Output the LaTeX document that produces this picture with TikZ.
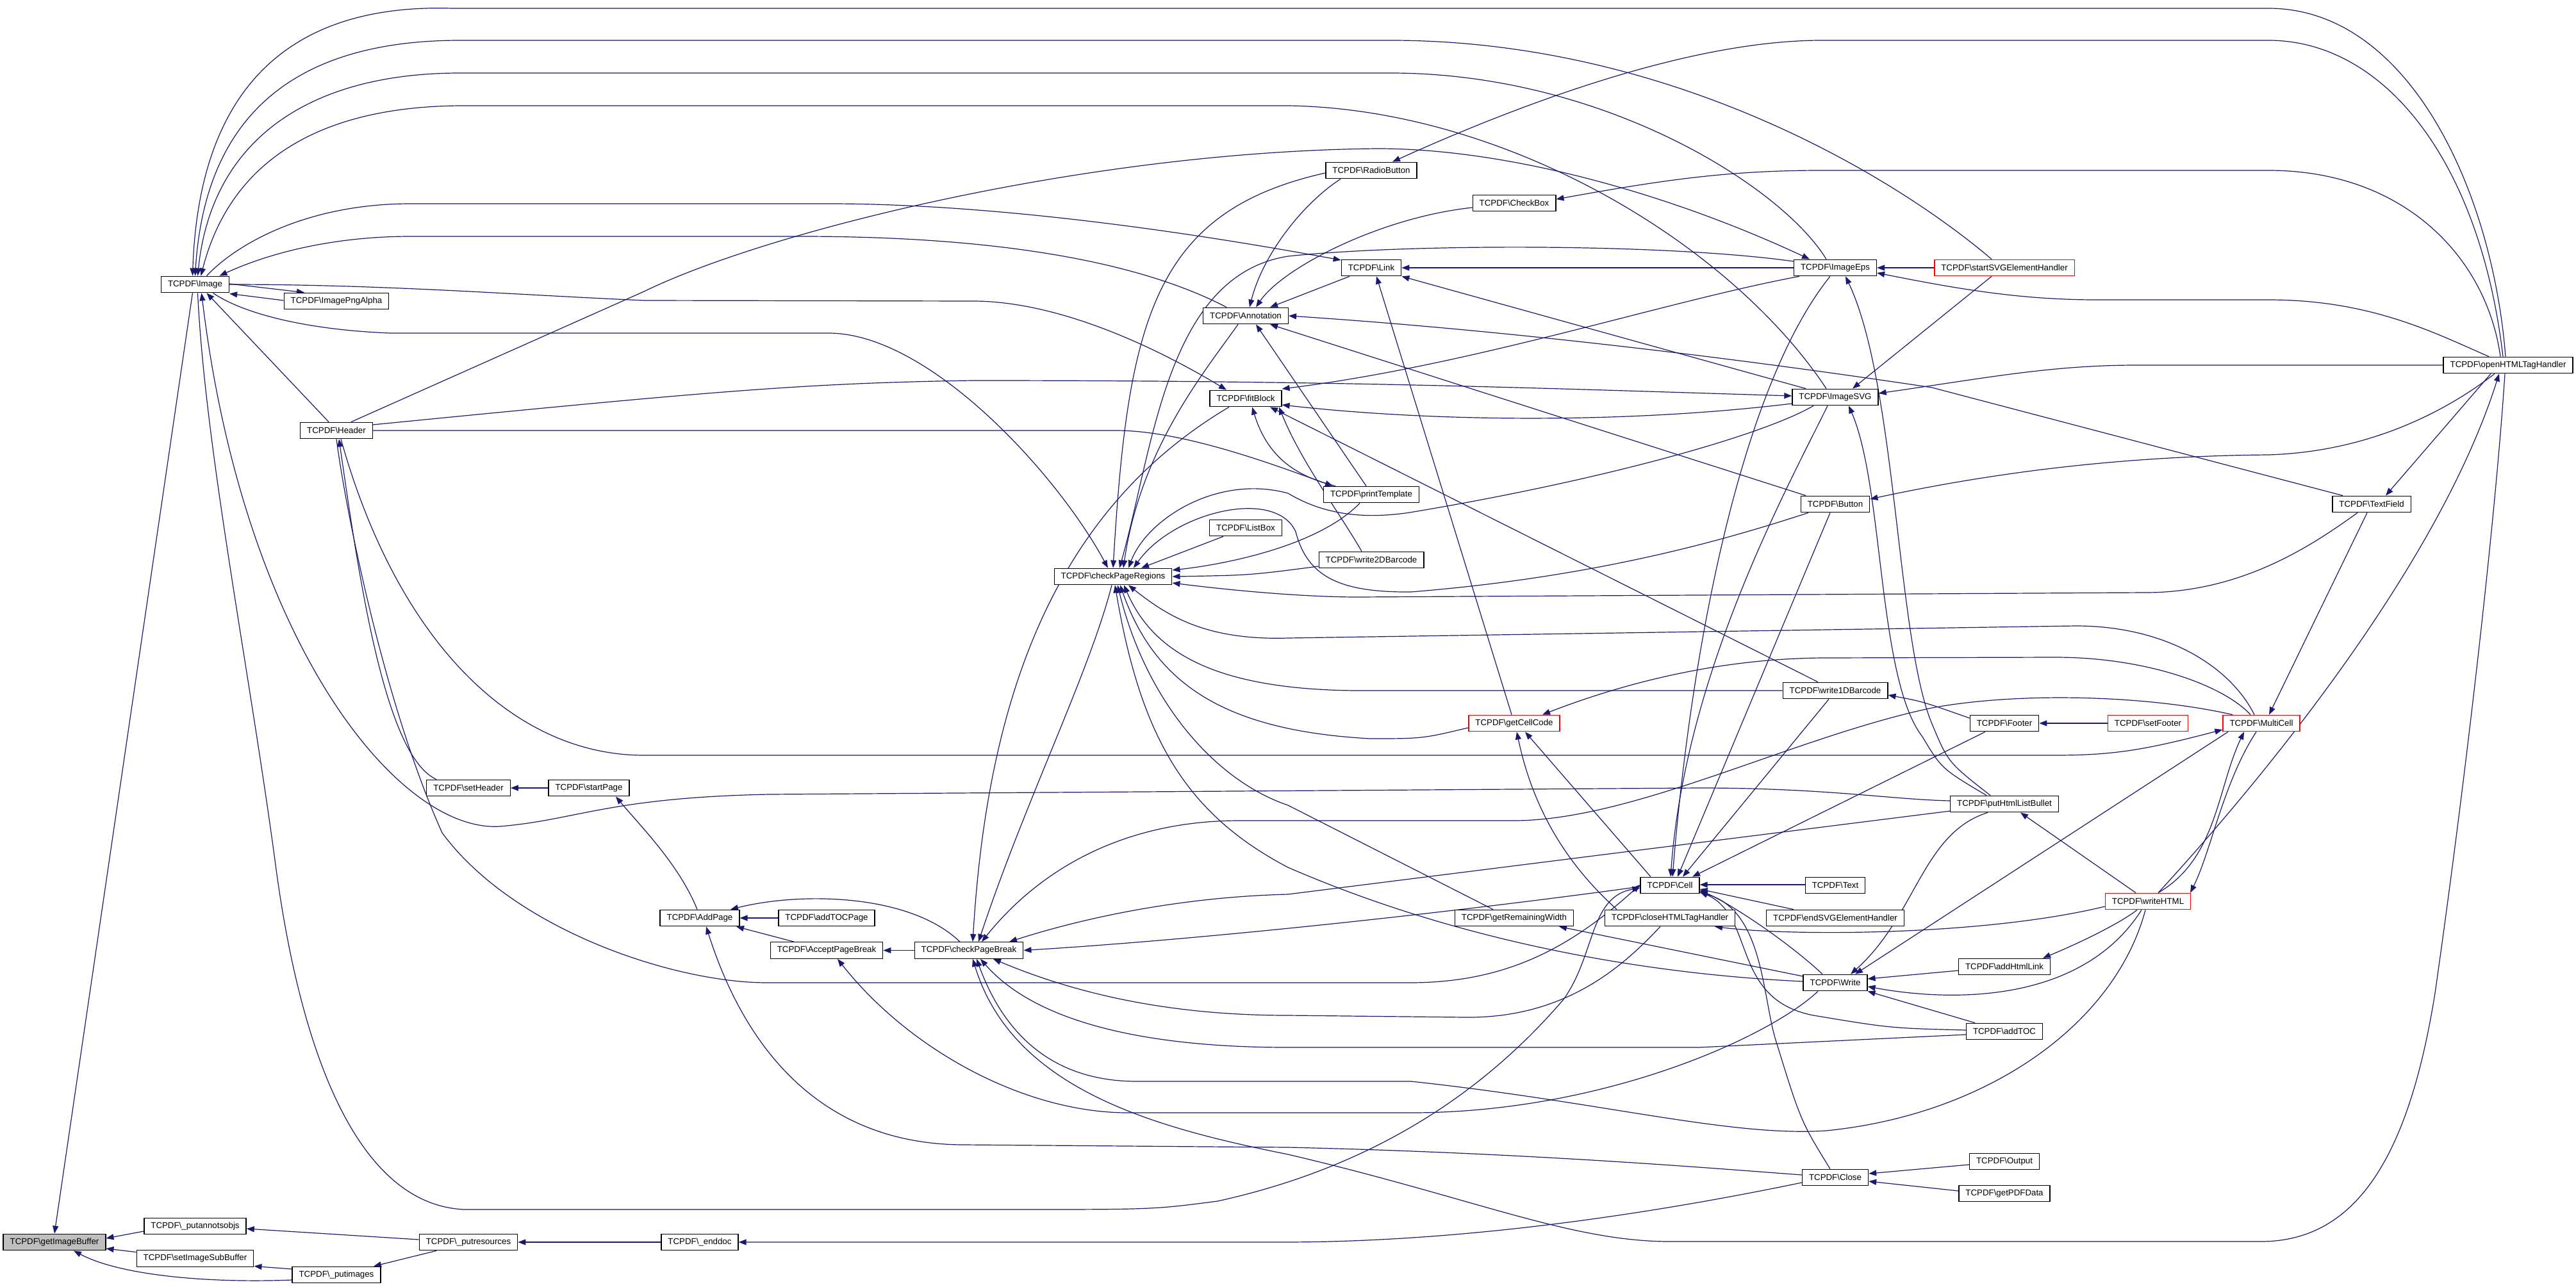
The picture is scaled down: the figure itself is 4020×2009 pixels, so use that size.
\documentclass[tikz,border=0pt]{standalone}
\usepackage{fontspec}
\newfontfamily\nodefont{Liberation Sans}
\usetikzlibrary{arrows.meta,backgrounds}
\definecolor{edgeblue}{RGB}{25,25,112}
\newcommand{\tcpdf}[1]{TCPDF\textbackslash #1}

\begin{document}
\begin{tikzpicture}[x=1pt,y=-1pt,
    fn/.style={draw=black,line width=1.3pt,fill=white,minimum height=25.5pt,inner xsep=10.5pt,inner ysep=0pt,font=\nodefont\fontsize{13.3}{15}\selectfont},
    fnred/.style={fn,draw=red},
    call/.style={draw=edgeblue,line width=1.2pt,{Triangle[length=12pt,width=9pt]}-}]
\useasboundingbox (0,0) rectangle (4020,2009);

% functions, column by column
\node[fn,fill=black!25] (gib) at (85,1939) {\tcpdf{getImageBuffer}};
\node[fn] (img) at (304.5,444) {\tcpdf{Image}};
\node[fn] (pao) at (304.5,1914) {\tcpdf{\_putannotsobjs}};
\node[fn] (sisb) at (304.5,1964.5) {\tcpdf{setImageSubBuffer}};
\node[fn] (png) at (525,470) {\tcpdf{ImagePngAlpha}};
\node[fn] (hdr) at (525,672) {\tcpdf{Header}};
\node[fn] (pim) at (525,1990) {\tcpdf{\_putimages}};
\node[fn] (shdr) at (731,1230) {\tcpdf{setHeader}};
\node[fn] (pres) at (731,1939) {\tcpdf{\_putresources}};
\node[fn] (spg) at (919,1230) {\tcpdf{startPage}};
\node[fn] (addp) at (1092,1433) {\tcpdf{AddPage}};
\node[fn] (endd) at (1092,1939) {\tcpdf{\_enddoc}};
\node[fn] (atp) at (1290,1433) {\tcpdf{addTOCPage}};
\node[fn] (apb) at (1290,1483.5) {\tcpdf{AcceptPageBreak}};
\node[fn] (cpb) at (1512,1483.5) {\tcpdf{checkPageBreak}};
\node[fn] (cpr) at (1737,900) {\tcpdf{checkPageRegions}};
\node[fn] (ann) at (1944,493) {\tcpdf{Annotation}};
\node[fn] (fit) at (1944,622) {\tcpdf{fitBlock}};
\node[fn] (lb) at (1944,824) {\tcpdf{ListBox}};
\node[fn] (rb) at (2140,266) {\tcpdf{RadioButton}};
\node[fn] (link) at (2140,418) {\tcpdf{Link}};
\node[fn] (pt) at (2140,772) {\tcpdf{printTemplate}};
\node[fn] (w2d) at (2140,874) {\tcpdf{write2DBarcode}};
\node[fn] (cb) at (2363,317) {\tcpdf{CheckBox}};
\node[fnred] (gcc) at (2363,1129) {\tcpdf{getCellCode}};
\node[fn] (grw) at (2363,1433) {\tcpdf{getRemainingWidth}};
\node[fn] (cell) at (2606,1382) {\tcpdf{Cell}};
\node[fn] (chtml) at (2606,1433) {\tcpdf{closeHTMLTagHandler}};
\node[fn] (eps) at (2864,418) {\tcpdf{ImageEps}};
\node[fn] (svg) at (2864,620) {\tcpdf{ImageSVG}};
\node[fn] (btn) at (2864,787) {\tcpdf{Button}};
\node[fn] (w1d) at (2864,1078) {\tcpdf{write1DBarcode}};
\node[fn] (text) at (2864,1382) {\tcpdf{Text}};
\node[fn] (esvg) at (2864,1433) {\tcpdf{endSVGElementHandler}};
\node[fn] (write) at (2864,1534) {\tcpdf{Write}};
\node[fn] (close) at (2864,1838) {\tcpdf{Close}};
\node[fnred] (ssvg) at (3128,418) {\tcpdf{startSVGElementHandler}};
\node[fn] (footer) at (3128,1129) {\tcpdf{Footer}};
\node[fn] (phlb) at (3128,1255) {\tcpdf{putHtmlListBullet}};
\node[fn] (ahl) at (3128,1509) {\tcpdf{addHtmlLink}};
\node[fn] (atoc) at (3128,1610) {\tcpdf{addTOC}};
\node[fn] (out) at (3128,1813) {\tcpdf{Output}};
\node[fn] (gpdf) at (3128,1863) {\tcpdf{getPDFData}};
\node[fnred] (sfoot) at (3352,1129) {\tcpdf{setFooter}};
\node[fnred] (whtml) at (3352,1407) {\tcpdf{writeHTML}};
\node[fnred] (mc) at (3529,1129) {\tcpdf{MultiCell}};
\node[fn] (tf) at (3701,787) {\tcpdf{TextField}};
\node[fn] (ohtml) at (3914,570) {\tcpdf{openHTMLTagHandler}};

\begin{scope}[on background layer]
% getImageBuffer and the output chain
\draw[call] (gib.north) -- ([xshift=-4pt]img.south);
\draw[call] ([yshift=6pt]gib.east) -- ([yshift=-8pt]pao.west);
\draw[call] ([yshift=-10pt]gib.east) -- ([yshift=10pt]sisb.west);
\draw[call] ([xshift=30pt]gib.south) .. controls (190,1992) and (330,2003) .. ([yshift=-8pt]pim.west);
\draw[call] ([yshift=-4pt]pao.east) -- ([yshift=4pt]pres.west);
\draw[call] ([yshift=-12pt]sisb.east) -- ([yshift=9pt]pim.west);
\draw[call] ([xshift=58pt]pim.north) -- ([xshift=-50pt]pres.south);
\draw[call] (pres.east) -- (endd.west);
\draw[call] (endd.east) -- (2000,1939) .. controls (2300,1939) and (2600,1890) .. ([yshift=-8pt]close.west);
\draw[call] ([yshift=6pt]close.east) -- ([yshift=-5pt]out.west);
\draw[call] ([yshift=-6pt]close.east) -- ([yshift=4pt]gpdf.west);

% Image
\draw[call] ([xshift=-4pt]img.north) .. controls (310,150) and (440,5) .. (705,13) -- (3540,13) .. controls (3760,13) and (3890,300) .. ([xshift=-4pt]ohtml.north);
\draw[call] (img.north) .. controls (320,180) and (460,63) .. (718,63) -- (2170,63) .. controls (2600,63) and (2950,270) .. ([xshift=-20pt]ssvg.north);
\draw[call] ([xshift=4pt]img.north) .. controls (330,220) and (480,114) .. (718,114) -- (2170,114) .. controls (2500,114) and (2780,290) .. ([xshift=-14pt]eps.north);
\draw[call] ([xshift=9pt]img.north) .. controls (360,250) and (500,165) .. (724,165) -- (2010,165) .. controls (2350,170) and (2700,380) .. ([xshift=-14pt]svg.north);
\draw[call] ([yshift=12pt]link.west) .. controls (1950,380) and (1600,318) .. (1293,318) -- (641,318) .. controls (480,318) and (370,380) .. ([xshift=18pt]img.north);
\draw[call] ([xshift=38pt]img.north) .. controls (420,395) and (520,369) .. (641,369) -- (1249,369) .. controls (1600,369) and (1800,420) .. ([xshift=-30pt]ann.north);
\draw[call] ([xshift=-30pt]fit.north) .. controls (1800,540) and (1650,470) .. (1518,470) -- (1005,469) .. controls (800,460) and (600,444) .. (img.east);
\draw[call] ([xshift=-50pt]png.north) -- ([yshift=1pt]img.east);
\draw[call] ([yshift=-1pt]img.south east) -- ([yshift=1pt]png.west);
\draw[call] ([xshift=-8pt]cpr.north) .. controls (1650,740) and (1450,520) .. (1293,520) -- (609,520) .. controls (480,515) and (380,490) .. ([xshift=28pt]img.south);
\draw[call] ([xshift=18pt]img.south) -- ([xshift=-12pt]hdr.north);
\draw[call] ([xshift=10pt]img.south) .. controls (380,1000) and (620,1300) .. (780,1290) .. controls (900,1280) and (950,1245) .. (1200,1240) -- (2651,1230) .. controls (2850,1230) and (2950,1248) .. ([yshift=5pt]phlb.west);
\draw[call] ([yshift=-4pt]cell.west) .. controls (2480,1400) and (2490,1490) .. (2440,1560) .. controls (2320,1700) and (2150,1820) .. (1900,1875) .. controls (1800,1888) .. (1582,1888) -- (724,1888) .. controls (560,1880) and (470,1650) .. (430,1350) .. controls (390,1050) and (320,700) .. ([xshift=4pt]img.south);

% Header and page handling
\draw[call] ([xshift=4pt]hdr.south) .. controls (560,900) and (600,1180) .. ([xshift=-50pt]shdr.north);
\draw[call] (shdr.east) -- (spg.west);
\draw[call] ([xshift=42pt]spg.south) .. controls (1000,1290) and (1060,1350) .. ([xshift=-4pt]addp.north);
\draw[call] (addp.east) -- (atp.west);
\draw[call] ([xshift=57pt]addp.south) -- ([xshift=-51pt]apb.north);
\draw[call] ([xshift=48pt]addp.north) .. controls (1250,1392) and (1420,1395) .. ([xshift=-14pt]cpb.north);
\draw[call] ([xshift=10pt]addp.south) .. controls (1170,1660) and (1300,1787) .. (1505,1787) -- (2010,1791) .. controls (2400,1800) and (2700,1826) .. ([yshift=4pt]close.west);
\draw[call] (apb.east) -- (cpb.west);
\draw[call] ([xshift=17pt]apb.south) .. controls (1420,1640) and (1600,1737) .. (1760,1737) -- (2202,1737) .. controls (2500,1737) and (2760,1620) .. ([xshift=-27pt]write.south);
\draw[call] (cpb.east) .. controls (1900,1465) and (2300,1420) .. ([yshift=-2pt]cell.west);
\draw[call] ([xshift=-40pt]eps.north) .. controls (2600,300) and (2350,232) .. (2150,232) .. controls (1700,236) and (1200,360) .. (1005,455) -- ([xshift=23pt]hdr.north);
\draw[call] ([yshift=2pt]svg.west) .. controls (2400,606) and (2100,594) .. (1518,594) .. controls (1250,598) and (1100,612) .. ([yshift=9pt]hdr.east);
\draw[call] ([xshift=-60pt]pt.north) .. controls (2000,730) and (1850,672) .. (1742,672) -- (hdr.east);
\draw[call] ([yshift=1pt]cell.west) .. controls (2450,1480) and (2350,1534) .. (2200,1534) -- (1197,1534) .. controls (1050,1534) and (800,1450) .. (690,1300) .. controls (600,1100) and (540,800) .. (hdr.south);
\draw[call] ([yshift=-10pt]mc.west) .. controls (3350,1170) and (3300,1179) .. (3207,1179) -- (1005,1179) .. controls (800,1179) and (620,1000) .. ([xshift=7pt]hdr.south);

% form fields, annotations, fitBlock
\draw[call] ([xshift=33pt]rb.north) .. controls (2400,150) and (2650,63) .. (2843,63) -- (3540,63) .. controls (3720,63) and (3870,250) .. ([xshift=-8pt]ohtml.north);
\draw[call] (cpr.north) .. controls (1760,500) and (1800,330) .. ([yshift=-4pt]rb.west);
\draw[call] ([xshift=10pt]cpr.north) .. controls (1800,700) and (1820,430) .. (2010,400) .. controls (2200,380) and (2600,380) .. ([yshift=10pt]eps.west);
\draw[call] (link.east) -- (eps.west);
\draw[call] ([xshift=16pt]cpr.north) .. controls (1780,700) and (1880,580) .. ([xshift=-12pt]ann.south);
\draw[call] ([xshift=6pt]ann.north) .. controls (1970,400) and (2030,320) .. ([xshift=-48pt]rb.south);
\draw[call] ([xshift=16pt]ann.north) .. controls (2000,420) and (2150,340) .. ([yshift=-7pt]cb.west);
\draw[call] ([xshift=38pt]ann.north) -- ([xshift=-34pt]link.south);
\draw[call] (ann.east) .. controls (2300,512) and (2650,550) .. (3015,605) -- ([xshift=-45pt]tf.north);
\draw[call] ([xshift=38pt]ann.south) -- ([xshift=-46pt]btn.north);
\draw[call] ([xshift=16pt]ann.south) -- ([xshift=-8pt]pt.north);
\draw[call] ([yshift=15pt]fit.east) .. controls (2300,570) and (2600,470) .. ([xshift=-56pt]eps.south);
\draw[call] ([yshift=-10pt]fit.east) .. controls (2250,660) and (2550,660) .. ([yshift=-10pt]svg.west);
\draw[call] ([xshift=10pt]fit.south) .. controls (1980,720) and (2030,745) .. ([xshift=-56pt]pt.north);
\draw[call] ([xshift=38pt]fit.south) -- ([xshift=-27pt]w1d.north);
\draw[call] ([xshift=52pt]fit.south) .. controls (2030,720) and (2090,800) .. ([xshift=-15pt]w2d.north);
\draw[call] ([xshift=6pt]cpb.north) .. controls (1540,1100) and (1640,800) .. ([xshift=-26pt]fit.south);
\draw[call] ([xshift=8pt]link.south) -- ([xshift=-4pt]gcc.north);
\draw[call] (link.south east) -- ([xshift=-46pt]svg.north);

% checkPageRegions
\draw[call] ([xshift=24pt]cpr.north) .. controls (1790,810) and (1900,740) .. (2010,770) .. controls (2060,800) and (2120,812) .. (2200,800) .. controls (2500,750) and (2750,680) .. ([xshift=-34pt]svg.south);
\draw[call] ([xshift=32pt]cpr.north) .. controls (1830,800) and (1990,760) .. (2022,830) .. controls (2040,900) and (2090,925) .. (2202,924) .. controls (2500,900) and (2700,840) .. ([xshift=-42pt]btn.south);
\draw[call] ([xshift=44pt]cpr.north) -- ([xshift=-35pt]lb.south);
\draw[call] ([yshift=10pt]cpr.east) .. controls (1920,880) and (2060,850) .. ([xshift=-18pt]pt.south);
\draw[call] (cpr.east) .. controls (1950,898) .. ([yshift=-10pt]w2d.west);
\draw[call] ([yshift=-10pt]cpr.east) .. controls (1950,925) and (2050,932) .. (2119,932) -- (3348,925) .. controls (3500,925) and (3610,850) .. ([xshift=-22pt]tf.south);
\draw[call] ([xshift=24pt]cpr.south) .. controls (1820,960) and (1880,1000) .. (2010,996) -- (3239,977) .. controls (3380,977) and (3480,1040) .. ([xshift=-11pt]mc.north);
\draw[call] ([xshift=17pt]cpr.south) .. controls (1800,1020) and (1900,1080) .. (2138,1078) -- (w1d.west);
\draw[call] ([xshift=11pt]cpr.south) .. controls (1800,1060) and (1900,1140) .. (2138,1153) .. controls (2220,1153) .. ([yshift=-7pt]gcc.west);
\draw[call] ([xshift=7pt]cpr.south) .. controls (1790,1100) and (1900,1220) .. (2010,1257) -- ([xshift=-33pt]grw.north);
\draw[call] ([xshift=3pt]cpr.south) .. controls (1780,1150) and (1850,1270) .. (2010,1354) .. controls (2300,1480) and (2600,1522) .. ([yshift=2pt]write.west);

% checkPageBreak
\draw[call] ([xshift=15pt]cpb.north) .. controls (1600,1250) and (1700,1050) .. ([xshift=-2pt]cpr.south);
\draw[call] ([xshift=63pt]cpb.north) .. controls (1700,1430) and (1850,1400) .. (2010,1396) -- ([yshift=-11pt]phlb.west);
\draw[call] ([xshift=20pt]cpb.north) .. controls (1620,1360) and (1750,1281) .. (1934,1281) -- (2362,1281) .. controls (2550,1281) and (2800,1150) .. (3015,1105) .. controls (3150,1080) and (3350,1085) .. ([xshift=-45pt]mc.north);
\draw[call] ([xshift=38pt]cpb.south) .. controls (1700,1560) and (1850,1585) .. (2010,1585) -- (2286,1588) .. controls (2450,1590) and (2540,1500) .. ([xshift=-15pt]chtml.south);
\draw[call] ([xshift=18pt]cpb.south) .. controls (1620,1600) and (1800,1635) .. (2010,1635) -- (2651,1635) -- ([yshift=-5pt]atoc.west);
\draw[call] ([xshift=12pt]cpb.south) .. controls (1580,1650) and (1680,1688) .. (1774,1688) -- (2202,1688) .. controls (2500,1720) and (2700,1775) .. (2850,1765) .. controls (3100,1740) and (3300,1600) .. ([xshift=-4pt]whtml.south);
\draw[call] ([xshift=6pt]cpb.south) .. controls (1580,1700) and (1800,1760) .. (2010,1802) .. controls (2300,1870) and (2450,1938) .. (2606,1938) -- (3528,1938) .. controls (3680,1938) and (3760,1800) .. (3800,1550) .. controls (3850,1200) and (3895,800) .. ([xshift=-5pt]ohtml.south);

% HTML and SVG handlers
\draw[call] ([xshift=-14pt]ohtml.south) .. controls (3800,900) and (3500,1250) .. ([xshift=16pt]whtml.north);
\draw[call] ([xshift=22pt]tf.north) -- ([xshift=-27pt]ohtml.south);
\draw[call] ([yshift=8pt]btn.east) .. controls (3100,740) and (3300,712) .. (3540,710) .. controls (3700,705) and (3820,640) .. ([xshift=-21pt]ohtml.south);
\draw[call] ([yshift=6pt]cb.east) .. controls (2600,280) and (2700,266) .. (2843,266) -- (3540,266) .. controls (3750,266) and (3880,400) .. ([xshift=-12pt]ohtml.north);
\draw[call] ([yshift=-8pt]eps.east) .. controls (3050,450) and (3150,468) .. (3271,468) -- (3540,468) .. controls (3700,468) and (3800,520) .. ([xshift=-30pt]ohtml.north);
\draw[call] ([yshift=6pt]svg.east) .. controls (3100,590) and (3200,570) .. (3335,570) -- (ohtml.west);
\draw[call] (eps.east) -- (ssvg.west);
\draw[call] ([xshift=27pt]svg.north) -- ([xshift=-20pt]ssvg.south);
\draw[call] ([xshift=16pt]eps.south) .. controls (2960,600) and (2960,1000) .. (3015,1130) .. controls (3040,1190) .. ([xshift=-22pt]phlb.north);
\draw[call] ([xshift=21pt]svg.south) .. controls (2940,760) and (2930,1060) .. (3000,1150) .. controls (3030,1200) .. ([xshift=-28pt]phlb.north);

% Cell
\draw[call] ([xshift=4pt]cell.north) .. controls (2640,1000) and (2720,600) .. ([xshift=-8pt]eps.south);
\draw[call] ([xshift=1pt]cell.north) .. controls (2630,1050) and (2790,760) .. ([xshift=-12pt]svg.south);
\draw[call] ([xshift=12pt]cell.north) -- ([xshift=-8pt]btn.south);
\draw[call] ([xshift=20pt]cell.north) -- ([xshift=-10pt]w1d.south);
\draw[call] ([xshift=35pt]cell.north) -- ([xshift=-30pt]footer.south);
\draw[call] ([xshift=17pt]gcc.south) -- ([xshift=-30pt]cell.north);
\draw[call] ([xshift=4pt]gcc.south) .. controls (2400,1300) and (2480,1380) .. ([xshift=-83pt]chtml.north);
\draw[call] ([xshift=44pt]gcc.north) .. controls (2550,1060) and (2700,1027) .. (2850,1027) -- (3207,1026) .. controls (3350,1026) and (3470,1070) .. ([xshift=-17pt]mc.north);
\draw[call] ([yshift=1pt]cell.east) -- ([yshift=1pt]text.west);
\draw[call] ([yshift=-6pt]cell.east) -- ([xshift=-65pt]esvg.north);
\draw[call] ([yshift=-8pt]cell.east) .. controls (2700,1410) and (2790,1470) .. ([xshift=-20pt]write.north);
\draw[call] ([yshift=-10pt]cell.east) .. controls (2740,1430) and (2700,1560) .. (2830,1585) .. controls (2950,1605) .. ([yshift=2pt]atoc.west);
\draw[call] ([yshift=-11pt]cell.east) .. controls (2750,1420) and (2750,1550) .. (2770,1620) .. controls (2810,1750) .. ([xshift=-8pt]close.north);

% Write, writeHTML, MultiCell, Footer
\draw[call] ([xshift=70pt]grw.south) -- ([yshift=10pt]write.west);
\draw[call] ([xshift=70pt]chtml.south) .. controls (2800,1462) and (3100,1460) .. ([yshift=-8pt]whtml.west);
\draw[call] ([xshift=25pt]phlb.south) -- ([xshift=-19pt]whtml.north);
\draw[call] ([xshift=60pt]ahl.north) .. controls (3250,1470) and (3310,1440) .. ([xshift=-17pt]whtml.south);
\draw[call] ([yshift=6pt]write.east) -- ([yshift=-6pt]ahl.west);
\draw[call] ([yshift=-6pt]write.east) .. controls (3050,1565) and (3250,1565) .. ([xshift=-10pt]whtml.south);
\draw[call] (write.south east) -- ([xshift=-46pt]atoc.north);
\draw[call] ([xshift=31pt]write.north) -- ([xshift=-52pt]mc.south);
\draw[call] ([xshift=24pt]write.north) .. controls (2990,1430) and (3000,1300) .. ([xshift=-26pt]phlb.south);
\draw[call] ([xshift=-27pt]mc.south) .. controls (3460,1230) and (3460,1340) .. ([xshift=16pt]whtml.north);
\draw[call] ([xshift=66pt]whtml.north) .. controls (3450,1330) and (3470,1220) .. ([xshift=-8pt]mc.south);
\draw[call] ([xshift=12pt]mc.north) -- ([xshift=-7pt]tf.south);
\draw[call] ([yshift=-7pt]w1d.east) .. controls (3000,1095) .. ([yshift=8pt]footer.west);
\draw[call] (footer.east) -- (sfoot.west);
\end{scope}
\end{tikzpicture}
\end{document}
